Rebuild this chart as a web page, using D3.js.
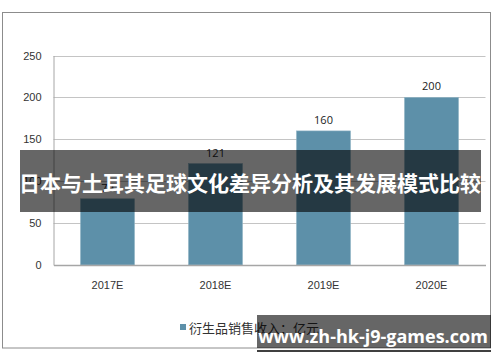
<!DOCTYPE html>
<html>
<head>
<meta charset="utf-8">
<script src="https://cdn.jsdelivr.net/npm/d3@7"></script>
<style>
  body { margin: 0; background: #fff; }
  svg { display: block; font-family: "Open Sans", "DejaVu Sans", "Noto Sans CJK SC", sans-serif; }
</style>
</head>
<body>
<svg id="chart" width="500" height="362"></svg>
<script>
const categories = ['2017E', '2018E', '2019E', '2020E']
const values = [79, 121, 160, 200]
const yTicks = [0, 50, 100, 150, 200, 250]
const seriesName = '衍生品销售收入：亿元'
const title = '日本与土耳其足球文化差异分析及其发展模式比较'
const watermark = 'www.zh-hk-j9-games.com'

const svg = d3.select('#chart')
const barColor = '#5d90a9'

// 外框
svg.append('rect')
  .attr('x', 2.5).attr('y', 12.5)
  .attr('width', 488).attr('height', 335.5)
  .attr('fill', 'none').attr('stroke', '#8c8c8c')

const plot = { left: 53.5, right: 485.5, top: 55.5, bottom: 265 }

const x = d3.scaleBand()
  .domain(categories)
  .range([plot.left, plot.right])
  .paddingInner(0.5)
  .paddingOuter(0.25)

const y = d3.scaleLinear()
  .domain([0, 250])
  .range([plot.bottom, plot.top])

// 网格线
svg.append('g')
  .selectAll('line')
  .data(yTicks.filter(d => d > 0))
  .enter()
  .append('line')
  .attr('x1', plot.left).attr('x2', plot.right)
  .attr('y1', d => Math.round(y(d)) + 0.5).attr('y2', d => Math.round(y(d)) + 0.5)
  .attr('stroke', '#c4c4c4')

// y 轴
const yAxis = svg.append('g')
  .attr('transform', `translate(${plot.left},0)`)
  .call(d3.axisLeft(y).tickValues(yTicks).tickSize(0).tickPadding(12))
yAxis.select('.domain').attr('stroke', '#a6a6a6')
yAxis.selectAll('text').attr('font-size', 11).attr('fill', '#333')

// 柱子
svg.append('g')
  .selectAll('rect')
  .data(values)
  .enter()
  .append('rect')
  .attr('x', (d, i) => x(categories[i]))
  .attr('y', d => y(d))
  .attr('width', x.bandwidth())
  .attr('height', d => plot.bottom - y(d))
  .attr('fill', barColor)
  .attr('stroke', '#8fb3c4')
  .attr('stroke-width', 0.6)

// 数值标签
svg.append('g')
  .selectAll('text')
  .data(values)
  .enter()
  .append('text')
  .attr('x', (d, i) => x(categories[i]) + x.bandwidth() / 2)
  .attr('y', d => y(d) - 7)
  .attr('text-anchor', 'middle')
  .attr('font-size', 11)
  .attr('fill', '#222')
  .text(d => d)

// x 轴
const xAxis = svg.append('g')
  .attr('transform', `translate(0,${plot.bottom})`)
  .call(d3.axisBottom(x).tickSize(0).tickPadding(16))
xAxis.select('.domain').attr('stroke', '#a6a6a6').attr('stroke-width', 1.5)
xAxis.selectAll('text').attr('font-size', 11).attr('fill', '#333')

// 图例
svg.append('rect')
  .attr('x', 180).attr('y', 324)
  .attr('width', 6).attr('height', 6)
  .attr('fill', barColor)
svg.append('text')
  .attr('x', 189).attr('y', 333)
  .attr('font-size', 13)
  .attr('fill', '#333')
  .attr('font-family', '"Noto Sans CJK SC", sans-serif')
  .text(seriesName)

// 标题遮罩
svg.append('rect')
  .attr('x', 20).attr('y', 150)
  .attr('width', 461).attr('height', 62)
  .attr('fill', 'rgba(0,0,0,0.6)')
svg.append('text')
  .attr('x', 250).attr('y', 185)
  .attr('text-anchor', 'middle')
  .attr('dominant-baseline', 'middle')
  .attr('font-size', 21)
  .attr('font-weight', 'bold')
  .attr('fill', '#fff')
  .attr('font-family', '"Noto Sans CJK SC", sans-serif')
  .text(title)

// 水印
svg.append('rect')
  .attr('x', 257).attr('y', 315)
  .attr('width', 234).attr('height', 33)
  .attr('fill', 'rgba(0,0,0,0.6)')
svg.append('line')
  .attr('x1', 257).attr('x2', 491)
  .attr('y1', 351).attr('y2', 351)
  .attr('stroke', '#000').attr('stroke-width', 1.5)
svg.append('text')
  .attr('x', 373).attr('y', 338)
  .attr('text-anchor', 'middle')
  .attr('dominant-baseline', 'middle')
  .attr('font-size', 18)
  .attr('font-weight', 'bold')
  .attr('fill', '#fff')
  .attr('font-family', '"Open Sans", "DejaVu Sans", sans-serif')
  .text(watermark)
</script>
</body>
</html>
